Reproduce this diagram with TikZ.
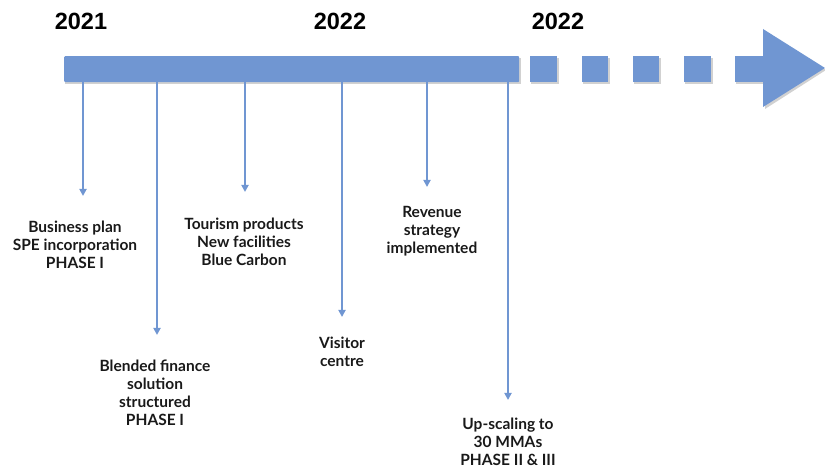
\documentclass[tikz,border=0pt]{standalone}
\usepackage{fontspec}
\setmainfont{Lato}
\newfontfamily\yearfont{Liberation Sans}
\usetikzlibrary{arrows.meta}
\definecolor{tlblue}{RGB}{112,150,210}
\tikzset{
  year/.style={font=\yearfont\bfseries\fontsize{23.5}{25}\selectfont, text=black, inner sep=0pt},
  lbl/.style={font=\bfseries\fontsize{15.5}{18}\selectfont, align=center, inner sep=0pt, text=black!90},
  tick/.style={draw=tlblue, line width=2pt, -{Triangle[length=7pt,width=7pt]}},
  seg/.style={fill=tlblue, draw=none, rounded corners=1pt},
  shade/.style={fill=black, opacity=0.18, draw=none}
}
\begin{document}
\begin{tikzpicture}[x=1pt,y=-1pt]
\useasboundingbox (0,0) rectangle (825,470);
% shadows
\fill[shade] (65,58) rectangle (521,84);
\foreach \a/\b in {530/557,582/608,633/659,684/711,735/765}{
  \fill[shade] (\a+1,58) rectangle (\b+2,84);
}
\fill[shade] (765,31) -- (826,70) -- (765,109) -- cycle;
% bar
\node[seg, minimum width=455pt, minimum height=26pt, inner sep=0pt, anchor=north west] (bar) at (64,56) {};
\foreach \a/\b [count=\i] in {530/557,582/608,633/659,684/711,735/765}{
  \fill[tlblue] (\a,56) rectangle (\b,82);
}
\fill[tlblue] (763,29) -- (825,68) -- (763,107) -- cycle;
% years
\node[year] (y1) at (81,21) {2021};
\node[year] (y2) at (340,21) {2022};
\node[year] (y3) at (558,21) {2022};
% labels
\node[lbl] (t1) at (75,245) {Business plan\\SPE incorporation\\PHASE I};
\node[lbl] (t2) at (155,393) {Blended finance\\solution\\structured\\PHASE I};
\node[lbl] (t3) at (244,242) {Tourism products\\New facilities\\Blue Carbon};
\node[lbl] (t4) at (342,352) {Visitor\\centre};
\node[lbl] (t5) at (432,231) {Revenue\\strategy\\implemented};
\node[lbl] (t6) at (508,442) {Up-scaling to\\30 MMAs\\PHASE II \& III};
% arrow ends
\coordinate (e1) at (83,196);
\coordinate (e2) at (157,335);
\coordinate (e3) at (245,192);
\coordinate (e4) at (342,317);
\coordinate (e5) at (427,187);
\coordinate (e6) at (508,400);
\draw[tick] (bar.south -| e1) -- (e1);
\draw[tick] (bar.south -| e2) -- (e2);
\draw[tick] (bar.south -| e3) -- (e3);
\draw[tick] (bar.south -| e4) -- (e4);
\draw[tick] (bar.south -| e5) -- (e5);
\draw[tick] (bar.south -| e6) -- (e6);
\end{tikzpicture}
\end{document}
